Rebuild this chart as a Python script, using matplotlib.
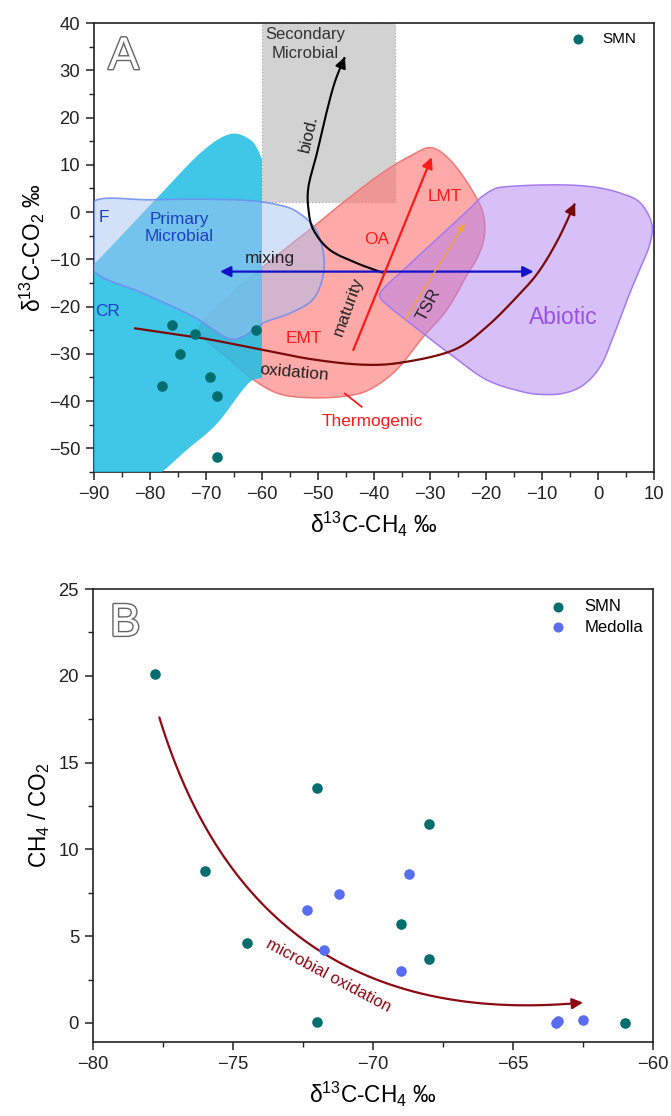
import numpy as np
import matplotlib
matplotlib.use("Agg")
import matplotlib.pyplot as plt
from matplotlib.patches import Polygon, Rectangle, FancyArrowPatch
from matplotlib.path import Path
from matplotlib.ticker import MultipleLocator
import matplotlib.patheffects as pe

plt.rcParams['font.family'] = ['Liberation Sans', 'DejaVu Sans']
plt.rcParams['mathtext.fontset'] = 'custom'
plt.rcParams['mathtext.rm'] = 'Liberation Sans'
plt.rcParams['mathtext.it'] = 'Liberation Sans:italic'
plt.rcParams['axes.unicode_minus'] = True

# ---------------- data ----------------
# Panel A: SMN samples (d13C-CH4, d13C-CO2)
smn_a_ch4 = [-76.1, -72.0, -74.6, -77.9, -69.2, -68.1, -68.1, -61.1]
smn_a_co2 = [-23.9, -25.9, -30.0, -36.9, -35.0, -38.9, -51.9, -25.0]

# Panel B: d13C-CH4 vs CH4/CO2
smn_b_ch4 = [-77.8, -76.0, -74.5, -72.0, -72.0, -69.0, -68.0, -68.0, -61.0]
smn_b_ratio = [20.1, 8.75, 4.6, 13.55, 0.08, 5.7, 11.45, 3.7, 0.0]
med_b_ch4 = [-72.35, -71.2, -71.75, -69.0, -68.7, -63.45, -63.4, -62.5]
med_b_ratio = [6.5, 7.45, 4.2, 3.0, 8.6, 0.0, 0.12, 0.18]

# Genetic fields of panel A (outline vertices, d13C-CH4 / d13C-CO2)
cyan_field = [(-95, -60), (-95, -16), (-90, -11), (-78.5, 3.3), (-71, 12.5),
              (-66, 16.4), (-62.5, 15.6), (-60.3, 12), (-57, 0), (-57, -31),
              (-62.4, -36.2), (-68, -44.7), (-73.4, -50.3), (-79, -56), (-85, -60)]
f_field = [(-90, 2.3), (-80, 2.6), (-70, 2.7), (-62, 2.4), (-57, 1.5), (-53.8, 0.1),
           (-50.5, -3.5), (-49, -9), (-49.2, -14), (-51, -18.6), (-55, -21.4),
           (-59.8, -23.5), (-63.5, -26.4), (-66.5, -26.5), (-72.3, -22.1),
           (-81.2, -17.2), (-90, -12.5), (-90, -5)]
thermo_field = [(-29.7, 13.6), (-26.4, 11.0), (-22.9, 5.4), (-20.6, 0), (-20.3, -5),
                (-21.5, -9.5), (-23.5, -13.5), (-27, -20.7), (-31.2, -26.4),
                (-36, -33.4), (-40.7, -37.5), (-44.9, -38.9), (-50.8, -39.3),
                (-56.8, -38.5), (-61.5, -35.5), (-66, -31), (-70, -27), (-71, -24),
                (-66, -18), (-59.8, -11.6), (-55, -7), (-50.9, -3.2), (-45, 2.5),
                (-38.5, 8.3), (-33, 12.2)]
abiotic_field = [(-21.1, 2.9), (-19, 4.6), (-16.9, 5.3), (-11, 5.7), (-5, 5.7),
                 (-0.2, 5.2), (4, 4), (7.5, 2), (9.6, -2.5), (9.2, -7), (7.5, -12),
                 (5.7, -17.1), (2.7, -26.4), (0.5, -32.5), (-2.5, -36.5), (-6, -38.3),
                 (-10, -38.6), (-13.9, -37.9), (-19.9, -35.5), (-25.8, -30.6),
                 (-31.2, -25.7), (-37.1, -20.2), (-38.9, -18), (-38.3, -16.2),
                 (-34.8, -12.3), (-26.4, -3.1), (-22.5, 1.2)]
secondary_box = (-60, 2.2, -36.25, 40)

# process paths in panel A
biod_path = [(-38.5, -12.8), (-43.1, -10.8), (-47.9, -8), (-50.8, -3.8), (-51.7, 0.5),
             (-51.7, 5.4), (-50.2, 12.4), (-48.6, 20.5), (-47.0, 27.5), (-45.2, 32.8)]
oxid_path = [(-82.7, -24.6), (-74.6, -26), (-68.7, -27.1), (-59.8, -29.2), (-50.8, -31.2),
             (-41.9, -32.3), (-34.8, -31.8), (-25.8, -29.2), (-19.9, -24.3),
             (-13.9, -17.2), (-10.4, -12.3), (-7, -5.5), (-4.1, 1.9)]


def catmull(pts, n=16, closed=True):
    P = np.array(pts, float)
    N = len(P)
    if not closed:
        P = np.vstack([P[0], P, P[-1]])
    out = []
    rng = range(N) if closed else range(1, N)
    for i in rng:
        if closed:
            p0, p1, p2, p3 = P[(i - 1) % N], P[i], P[(i + 1) % N], P[(i + 2) % N]
        else:
            p0, p1, p2, p3 = P[i - 1], P[i], P[i + 1], P[i + 2]
        t = np.linspace(0, 1, n, endpoint=False)[:, None]
        out.append(0.5 * ((2 * p1) + (-p0 + p2) * t + (2 * p0 - 5 * p1 + 4 * p2 - p3) * t ** 2
                          + (-p0 + 3 * p1 - 3 * p2 + p3) * t ** 3))
    res = np.vstack(out)
    if not closed:
        res = np.vstack([res, P[-1]])
    return res


fig = plt.figure(figsize=(6.71, 11.16), dpi=100)
axA = fig.add_axes([94 / 671, 1 - 472 / 1116, 560 / 671, 449 / 1116])
axB = fig.add_axes([93 / 671, 1 - 1042 / 1116, 560 / 671, 453 / 1116])

TICK_FS = 13.3
LABEL_FS = 16.3
TXT_FS = 12.4

for ax in (axA, axB):
    for s in ax.spines.values():
        s.set_linewidth(1.2)
        s.set_color('#222222')
    ax.tick_params(which='major', direction='out', length=6, width=1.1, labelsize=TICK_FS,
                   colors='#222222', top=False, right=False, pad=4)
    ax.tick_params(which='minor', direction='out', length=3.5, width=1.0,
                   colors='#222222', top=False, right=False)

# ---------------- Panel A ----------------
ax = axA
ax.set_xlim(-90, 10)
ax.set_ylim(-55, 40)
ax.xaxis.set_major_locator(MultipleLocator(10))
ax.xaxis.set_minor_locator(MultipleLocator(5))
ax.yaxis.set_major_locator(MultipleLocator(10))
ax.yaxis.set_minor_locator(MultipleLocator(5))

x0, y0, x1, y1 = secondary_box
ax.add_patch(Rectangle((x0, y0), x1 - x0, y1 - y0, facecolor='#cdcdcd', alpha=0.9,
                       edgecolor='#a8a8a8', linestyle=':', linewidth=0.9, zorder=1))

th = catmull(thermo_field)
ax.add_patch(Polygon(th, closed=True, facecolor='#ff6b6b', alpha=0.58, edgecolor='none', zorder=2))
ax.add_patch(Polygon(th, closed=True, facecolor='none', edgecolor='#f27878', lw=1.1, zorder=2.1))

ab = catmull(abiotic_field)
ax.add_patch(Polygon(ab, closed=True, facecolor='#b080f0', alpha=0.5, edgecolor='none', zorder=3))
ax.add_patch(Polygon(ab, closed=True, facecolor='none', edgecolor='#a57af0', lw=1.1, zorder=3.1))

cy = catmull(cyan_field)
cy[:, 0] = np.clip(cy[:, 0], -90, -60)
cy[:, 1] = np.clip(cy[:, 1], -55, 40)
ax.add_patch(Polygon(cy, closed=True, facecolor='#20bde4', alpha=0.86, edgecolor='none', zorder=4))

ff = catmull(f_field)
ff[:, 0] = np.clip(ff[:, 0], -90, 10)
ax.add_patch(Polygon(ff, closed=True, facecolor='#a6c2f2', alpha=0.5, edgecolor='none', zorder=5))
ax.add_patch(Polygon(ff, closed=True, facecolor='none', edgecolor='#6f8cf2', lw=1.2, alpha=0.85, zorder=5.1))

# process arrows
bp = catmull(biod_path, closed=False)
ax.add_patch(FancyArrowPatch(path=Path(bp), arrowstyle='-|>', mutation_scale=16,
                             color='black', lw=1.5, zorder=7))
op = catmull(oxid_path, closed=False)
ax.add_patch(FancyArrowPatch(path=Path(op), arrowstyle='-|>', mutation_scale=16,
                             color='#7a0a0a', lw=1.6, zorder=7))
ax.annotate('', xy=(-67.5, -12.6), xytext=(-11.5, -12.6),
            arrowprops=dict(arrowstyle='<|-|>', color='#1212cc', lw=1.6,
                            mutation_scale=16, shrinkA=0, shrinkB=0), zorder=8)
ax.annotate('', xy=(-29.7, 11.6), xytext=(-43.7, -29.2),
            arrowprops=dict(arrowstyle='-|>', color='#ff1a1a', lw=1.6,
                            mutation_scale=16, shrinkA=0, shrinkB=0), zorder=8)
ax.annotate('', xy=(-23.8, -2.4), xytext=(-34.5, -22.8),
            arrowprops=dict(arrowstyle='-|>', color='#f2a33a', lw=1.0,
                            mutation_scale=12, shrinkA=0, shrinkB=0), zorder=8)
ax.plot([-45.2, -42.2], [-38.4, -41.2], color='#ff1a1a', lw=1.3, zorder=8)

ax.scatter(smn_a_ch4, smn_a_co2, s=58, color='#006e6e', zorder=10, label='SMN', linewidths=0)

# labels
ax.text(-84.7, 32.8, 'A', fontsize=33, color='white', ha='center', va='center', zorder=11,
        path_effects=[pe.withStroke(linewidth=2.0, foreground='#666666')])
ax.text(-52.2, 35.6, 'Secondary\nMicrobial', fontsize=12, color='#333333', ha='center',
        va='center', linespacing=1.35, zorder=11)
ax.text(-51.6, 16.5, 'biod.', fontsize=TXT_FS, color='#222222', rotation=77, ha='center',
        va='center', zorder=11)
ax.text(-88.3, -1.2, 'F', fontsize=TXT_FS, color='#1f3fc4', ha='center', va='center', zorder=11)
ax.text(-74.8, -3.4, 'Primary\nMicrobial', fontsize=TXT_FS, color='#1f3fc4', ha='center',
        va='center', linespacing=1.22, zorder=11)
ax.text(-87.5, -21.0, 'CR', fontsize=TXT_FS, color='#1f3fc4', ha='center', va='center', zorder=11)
ax.text(-58.6, -9.9, 'mixing', fontsize=TXT_FS, color='#222222', ha='center', va='center', zorder=11)
ax.text(-52.6, -26.8, 'EMT', fontsize=TXT_FS, color='#ff1a1a', ha='center', va='center', zorder=11)
ax.text(-54.2, -34.0, 'oxidation', fontsize=TXT_FS, color='#222222', ha='center', va='center',
        rotation=-5, zorder=11)
ax.text(-40.3, -44.4, 'Thermogenic', fontsize=TXT_FS, color='#ff1a1a', ha='center', va='center', zorder=11)
ax.text(-44.6, -19.9, 'maturity', fontsize=TXT_FS, color='#222222', ha='center', va='center',
        rotation=70, zorder=11)
ax.text(-39.6, -5.8, 'OA', fontsize=TXT_FS, color='#ff1a1a', ha='center', va='center', zorder=11)
ax.text(-27.3, 3.3, 'LMT', fontsize=TXT_FS, color='#ff1a1a', ha='center', va='center', zorder=11)
ax.text(-30.3, -19.6, 'TSR', fontsize=TXT_FS, color='#222222', ha='center', va='center',
        rotation=62, zorder=11)
ax.text(-6.2, -22.4, 'Abiotic', fontsize=16.5, color='#9a4fe6', ha='center', va='center', zorder=11)

ax.set_xlabel('δ$^{13}$C-CH$_4$ ‰', fontsize=LABEL_FS, labelpad=5)
ax.set_ylabel('δ$^{13}$C-CO$_2$ ‰', fontsize=LABEL_FS, labelpad=1)
ax.legend(loc='upper right', bbox_to_anchor=(0.985, 1.0), frameon=False, fontsize=11,
          handletextpad=0.6, borderaxespad=0.2, markerscale=0.95)

# ---------------- Panel B ----------------
ax = axB
ax.set_xlim(-80, -60)
ax.set_ylim(-1.1, 25)
ax.xaxis.set_major_locator(MultipleLocator(5))
ax.xaxis.set_minor_locator(MultipleLocator(2.5))
ax.yaxis.set_major_locator(MultipleLocator(5))
ax.yaxis.set_minor_locator(MultipleLocator(2.5))

# microbial oxidation trend arrow (quadratic Bezier)
P0 = np.array([-77.63, 17.6])
P1 = np.array([-74.2, -0.6])
P2 = np.array([-62.5, 1.17])
t = np.linspace(0, 1, 120)[:, None]
curve = (1 - t) ** 2 * P0 + 2 * (1 - t) * t * P1 + t ** 2 * P2
ax.add_patch(FancyArrowPatch(path=Path(curve), arrowstyle='-|>', mutation_scale=16,
                             color='#8b0a14', lw=1.6, zorder=3))
ax.text(-71.6, 2.7, 'microbial oxidation', fontsize=12, color='#8b0a14', rotation=-28,
        ha='center', va='center', zorder=4)

ax.scatter(smn_b_ch4, smn_b_ratio, s=58, color='#006e6e', zorder=10, label='SMN', linewidths=0)
ax.scatter(med_b_ch4, med_b_ratio, s=58, color='#5a6cf0', zorder=10, label='Medolla', linewidths=0)

ax.text(-78.85, 23.0, 'B', fontsize=33, color='white', ha='center', va='center', zorder=11,
        path_effects=[pe.withStroke(linewidth=2.0, foreground='#666666')])

ax.set_xlabel('δ$^{13}$C-CH$_4$ ‰', fontsize=LABEL_FS, labelpad=5)
ax.set_ylabel('CH$_4$ / CO$_2$', fontsize=LABEL_FS, labelpad=5)
ax.legend(loc='upper right', bbox_to_anchor=(1.0, 1.0), frameon=False, fontsize=12,
          handletextpad=0.6, borderaxespad=0.2, labelspacing=0.35, markerscale=0.95)

fig.savefig('out.png', dpi=100)
